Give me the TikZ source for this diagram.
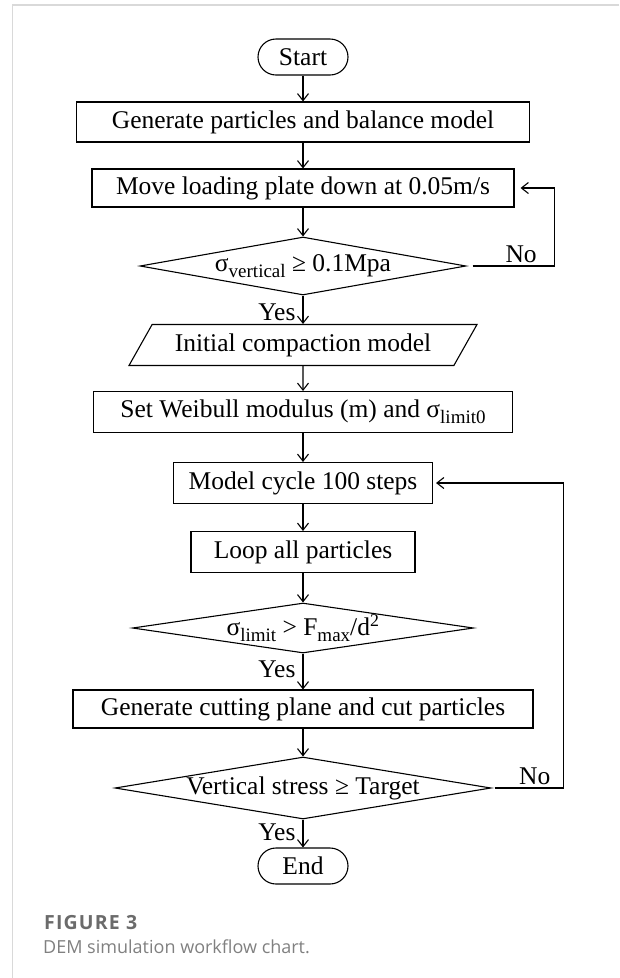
\documentclass[tikz,border=0pt]{standalone}
\usepackage{fontspec}
\setmainfont{Liberation Serif}
\newfontfamily\capfont{Open Sans}
\newfontfamily\capfontwide[LetterSpace=6]{Open Sans}
\usetikzlibrary{shapes, arrows.meta, positioning, calc}
\newcommand{\lowsub}[1]{\raisebox{-0.5ex}{\fontsize{19}{19}\selectfont #1}}

\begin{document}
\begin{tikzpicture}[>={Straight Barb[length=7pt,width=11pt]}, x=1pt, y=-1pt, font=\fontsize{25.5}{28}\selectfont]
\tikzset{
    process/.style={rectangle, draw, line width=1.1pt, minimum height=40pt, inner sep=0pt},
    terminal/.style={rectangle, rounded corners=18pt, draw, line width=1.1pt, minimum width=90pt, minimum height=36pt, inner sep=0pt},
    decision/.style={diamond, draw, line width=1.1pt, inner sep=0pt},
    io/.style={trapezium, trapezium left angle=45, trapezium right angle=135, trapezium stretches body, draw, line width=1.1pt, minimum height=41pt, inner sep=0pt},
    flow/.style={->, line width=1.1pt},
    answer/.style={left=7pt, inner sep=0pt},
    frame/.style={draw=black!15, line width=1.2pt}
}
\useasboundingbox (0,0) rectangle (619,978);

% --- Card frame ---
\coordinate (frameTop) at (619,5);
\coordinate (frameCorner) at (12.6,5);
\coordinate (frameBottom) at (12.6,978);
\draw[frame] (frameTop) -- (frameCorner) -- (frameBottom);

% --- Steps ---
\node (start) at (303,57) [terminal] {Start};
\node (gen) at (303,122) [process, minimum width=453pt] {Generate particles and balance model};
\node (move) at (303,188) [process, minimum width=422pt, minimum height=38pt] {Move loading plate down at 0.05m/s};
\node (chk1) at (303,266) [decision, aspect=5.6, minimum width=326pt, minimum height=58pt] {σ\lowsub{vertical} ≥ 0.1Mpa};
\node (init) at (303,345) [io, minimum width=348pt] {Initial compaction model};
\node (weib) at (303,412) [process, minimum width=419pt, minimum height=41pt] {Set Weibull modulus (m) and σ\lowsub{limit0}};
\node (cycle) at (303,483) [process, minimum width=259pt, minimum height=41pt] {Model cycle 100 steps};
\node (loop) at (303,552) [process, minimum width=224pt, minimum height=41pt] {Loop all particles};
\node (chk2) at (303,628) [decision, aspect=6.8, minimum width=341pt, minimum height=50pt] {σ\lowsub{limit} > F\lowsub{max}/d\textsuperscript{2}};
\node (cut) at (303,709) [process, minimum width=460pt, minimum height=38pt] {Generate cutting plane and cut particles};
\node (chk3) at (303,788) [decision, aspect=6.1, minimum width=376pt, minimum height=62pt] {Vertical stress ≥ Target};
\node (end) at (303,866) [terminal] {End};

% --- Main flow ---
\draw[flow] (start) -- (gen);
\draw[flow] (gen) -- (move);
\draw[flow] (move) -- (chk1);
\draw[flow] (chk1) -- (init) node[pos=0.6, answer] {Yes};
\draw[flow] (init) -- (weib);
\draw[flow] (weib) -- (cycle);
\draw[flow] (cycle) -- (loop);
\draw[flow] (loop) -- (chk2);
\draw[flow] (chk2) -- (cut) node[pos=0.45, answer] {Yes};
\draw[flow] (cut) -- (chk3);
\draw[flow] (chk3) -- (end) node[pos=0.45, answer] {Yes};

% --- Loops back ---
\draw[flow, shorten <=6pt, shorten >=6pt] (chk1.east) -- ++(88,0) node[pos=0.62, above, inner sep=3pt] {No} |- (move.east);
\draw[flow, shorten <=3pt, shorten >=3pt] (chk3.east) -- ++(72,0) node[pos=0.6, above, inner sep=3pt] {No} |- (cycle.east);

% --- Caption ---
\node (figno) at (44,929) [anchor=base west, inner sep=0pt, text=black!58, font=\capfontwide\bfseries\fontsize{19.5}{22}\selectfont] {FIGURE 3};
\node (figcap) at (43,953) [anchor=base west, inner sep=0pt, text=black!50, font=\capfont\fontsize{18}{20}\selectfont] {DEM simulation workflow chart.};

\end{tikzpicture}
\end{document}
